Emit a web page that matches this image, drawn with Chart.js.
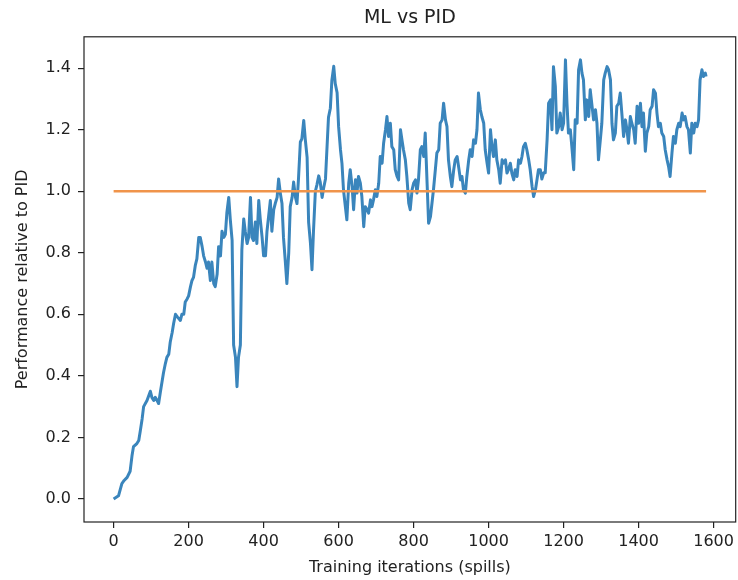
<!DOCTYPE html>
<html>
<head>
<meta charset="utf-8">
<title>ML vs PID</title>
<script src="https://cdn.jsdelivr.net/npm/chart.js@4.4.1/dist/chart.umd.min.js"></script>
<style>
    html, body { margin: 0; padding: 0; background: #fff; }
    #wrap { width: 738px; height: 580px; }
</style>
</head>
<body>
<div id="wrap"><canvas id="mlChart" width="738" height="580"></canvas></div>
<script>
// --- 1. DATA ---
const iterX = [
    0, 13, 22, 28, 36, 44, 49, 53, 62, 67, 71, 76, 80, 89, 98, 102, 107, 111, 116, 120,
    125, 129, 133, 138, 142, 147, 151, 156, 160, 165, 171, 178, 182, 187, 191, 196, 200, 205, 209, 213,
    218, 222, 227, 231, 236, 240, 245, 249, 253, 258, 262, 267, 271, 276, 280, 285, 289, 294, 298, 302,
    307, 311, 316, 320, 325, 329, 333, 338, 342, 347, 351, 356, 360, 365, 369, 373, 378, 382, 387, 391,
    396, 400, 405, 409, 418, 422, 427, 431, 436, 440, 445, 449, 453, 458, 462, 467, 471, 476, 480, 485,
    489, 493, 498, 502, 507, 511, 516, 520, 525, 529, 533, 538, 542, 547, 551, 556, 560, 565, 569, 573,
    578, 582, 587, 591, 596, 600, 605, 609, 613, 618, 622, 627, 631, 636, 640, 645, 649, 653, 658, 662,
    667, 671, 676, 680, 685, 689, 693, 698, 702, 707, 711, 716, 720, 725, 729, 733, 738, 742, 747, 751,
    756, 760, 765, 769, 773, 778, 782, 787, 791, 796, 800, 805, 809, 813, 818, 822, 827, 831, 836, 840,
    845, 849, 853, 858, 862, 867, 871, 876, 880, 885, 889, 893, 898, 902, 907, 911, 916, 920, 925, 929,
    933, 938, 942, 947, 951, 956, 960, 965, 969, 973, 978, 982, 987, 991, 996, 1000, 1005, 1009, 1013, 1018,
    1022, 1027, 1031, 1036, 1040, 1045, 1049, 1053, 1058, 1062, 1067, 1071, 1076, 1080, 1085, 1089, 1093, 1098, 1102, 1107,
    1111, 1116, 1120, 1125, 1129, 1133, 1138, 1142, 1147, 1151, 1156, 1160, 1165, 1169, 1173, 1178, 1182, 1187, 1191, 1196,
    1200, 1205, 1209, 1213, 1218, 1222, 1227, 1231, 1236, 1240, 1245, 1249, 1253, 1258, 1262, 1267, 1271, 1276, 1280, 1285,
    1289, 1293, 1298, 1302, 1307, 1311, 1316, 1320, 1325, 1329, 1333, 1338, 1342, 1347, 1351, 1356, 1360, 1365, 1369, 1373,
    1378, 1382, 1387, 1391, 1396, 1400, 1405, 1409, 1413, 1418, 1422, 1427, 1431, 1436, 1440, 1445, 1449, 1453, 1458, 1462,
    1467, 1471, 1476, 1480, 1484, 1489, 1493, 1498, 1502, 1507, 1511, 1516, 1520, 1524, 1529, 1533, 1538, 1542, 1547, 1551,
    1556, 1560, 1564, 1569, 1573, 1578, 1580
];

const mlPerf = [
    0.00, 0.01, 0.05, 0.06, 0.07, 0.09, 0.14, 0.17, 0.18, 0.19, 0.22, 0.26, 0.30, 0.32, 0.35, 0.33, 0.32, 0.33, 0.32, 0.31,
    0.35, 0.38, 0.41, 0.44, 0.46, 0.47, 0.51, 0.54, 0.57, 0.60, 0.59, 0.58, 0.60, 0.60, 0.64, 0.65, 0.66, 0.69, 0.71, 0.72,
    0.76, 0.78, 0.85, 0.85, 0.82, 0.79, 0.77, 0.75, 0.77, 0.71, 0.77, 0.70, 0.69, 0.73, 0.82, 0.79, 0.87, 0.85, 0.86, 0.93,
    0.98, 0.91, 0.84, 0.50, 0.46, 0.365, 0.46, 0.50, 0.81, 0.91, 0.87, 0.83, 0.85, 0.98, 0.85, 0.84, 0.90, 0.83, 0.97, 0.91,
    0.85, 0.79, 0.79, 0.87, 0.97, 0.87, 0.94, 0.96, 0.98, 1.04, 0.99, 0.96, 0.85, 0.77, 0.70, 0.80, 0.95, 0.98, 1.03, 0.98,
    0.96, 1.04, 1.16, 1.17, 1.23, 1.17, 1.11, 0.90, 0.83, 0.745, 0.87, 1.00, 1.02, 1.05, 1.03, 0.98, 1.01, 1.04, 1.14, 1.24,
    1.27, 1.36, 1.406, 1.35, 1.32, 1.21, 1.135, 1.09, 1.005, 0.95, 0.907, 1.026, 1.07, 1.015, 0.94, 1.037, 0.994, 1.048, 1.026, 0.983,
    0.885, 0.95, 0.94, 0.929, 0.972, 0.95, 0.972, 1.005, 0.983, 1.026, 1.113, 1.091, 1.156, 1.20, 1.243, 1.178, 1.221, 1.145, 1.135, 1.07,
    1.048, 1.037, 1.20, 1.167, 1.135, 1.102, 1.048, 0.961, 0.94, 1.005, 1.026, 1.037, 0.994, 1.037, 1.135, 1.145, 1.113, 1.189, 1.026, 0.896,
    0.918, 0.961, 1.005, 1.07, 1.124, 1.135, 1.221, 1.232, 1.286, 1.232, 1.21, 1.102, 1.048, 1.015, 1.07, 1.102, 1.113, 1.08, 1.037, 1.048,
    1.005, 0.994, 1.048, 1.102, 1.135, 1.113, 1.167, 1.156, 1.20, 1.319, 1.265, 1.243, 1.221, 1.135, 1.091, 1.059, 1.20, 1.145, 1.113, 1.167,
    1.102, 1.07, 1.026, 1.102, 1.091, 1.102, 1.059, 1.07, 1.091, 1.059, 1.037, 1.07, 1.048, 1.102, 1.091, 1.113, 1.145, 1.156, 1.135, 1.102,
    1.07, 1.015, 0.983, 1.005, 1.037, 1.07, 1.07, 1.04, 1.06, 1.06, 1.167, 1.286, 1.297, 1.20, 1.405, 1.341, 1.189, 1.21, 1.254, 1.20,
    1.221, 1.427, 1.286, 1.189, 1.20, 1.145, 1.07, 1.232, 1.221, 1.395, 1.427, 1.384, 1.362, 1.232, 1.297, 1.243, 1.33, 1.276, 1.232, 1.265,
    1.221, 1.102, 1.167, 1.221, 1.362, 1.384, 1.405, 1.395, 1.362, 1.221, 1.167, 1.189, 1.276, 1.286, 1.319, 1.243, 1.178, 1.232, 1.20, 1.156,
    1.243, 1.221, 1.20, 1.156, 1.276, 1.221, 1.286, 1.21, 1.254, 1.13, 1.189, 1.21, 1.265, 1.276, 1.33, 1.319, 1.254, 1.21, 1.221, 1.189,
    1.178, 1.135, 1.102, 1.08, 1.048, 1.124, 1.178, 1.156, 1.20, 1.221, 1.21, 1.254, 1.232, 1.243, 1.21, 1.20, 1.124, 1.221, 1.189, 1.221,
    1.21, 1.232, 1.362, 1.395, 1.373, 1.384, 1.373
];

// PID baseline (constant 1.0 over the same run)
const pidX = [0, 1580];
const pidPerf = [1.0, 1.0];

const xTickValues = [0, 200, 400, 600, 800, 1000, 1200, 1400, 1600];
const yTickValues = [0.0, 0.2, 0.4, 0.6, 0.8, 1.0, 1.2, 1.4];

// --- 2. LOOK ---
const FONT = "'DejaVu Sans', 'Liberation Sans', sans-serif";
const INK = '#222';

// matplotlib-style box around the axes; title centred over the axes, not the canvas
const frameBox = {
    id: 'frameBox',
    afterLayout(chart) {
        const t = chart.titleBlock;
        if (t) {
            t.left = chart.chartArea.left;
            t.right = chart.chartArea.right;
            t.width = t.right - t.left;
        }
    },
    afterDraw(chart) {
        const a = chart.chartArea;
        const ctx = chart.ctx;
        ctx.save();
        ctx.strokeStyle = INK;
        ctx.lineWidth = 1.2;
        ctx.strokeRect(a.left, a.top, a.right - a.left, a.bottom - a.top);
        ctx.restore();
    }
};

document.addEventListener('DOMContentLoaded', () => {
    const ctx = document.getElementById('mlChart').getContext('2d');

    const mlPoints = iterX.map((x, i) => ({ x: x, y: mlPerf[i] }));
    const pidPoints = pidX.map((x, i) => ({ x: x, y: pidPerf[i] }));

    new Chart(ctx, {
        type: 'line',
        data: {
            datasets: [
                {
                    label: 'PID',
                    data: pidPoints,
                    borderColor: '#f0944a',
                    borderWidth: 2.4,
                    pointRadius: 0,
                    order: 0
                },
                {
                    label: 'ML',
                    data: mlPoints,
                    borderColor: '#3a85bc',
                    borderWidth: 3,
                    pointRadius: 0,
                    tension: 0,
                    borderJoinStyle: 'round',
                    order: 1
                }
            ]
        },
        options: {
            responsive: false,
            animation: false,
            events: [],
            layout: { padding: { left: 0, right: 2, top: 0, bottom: 0 } },
            scales: {
                x: {
                    type: 'linear',
                    min: -79,
                    max: 1659,
                    afterBuildTicks: (s) => { s.ticks = xTickValues.map(v => ({ value: v })); },
                    afterFit: (s) => { s.height = 58; },
                    border: { display: false },
                    grid: { drawOnChartArea: false, drawTicks: true, tickLength: 6, color: INK, lineWidth: 1.2 },
                    ticks: {
                        color: INK,
                        padding: 4,
                        maxRotation: 0,
                        font: { family: FONT, size: 16 },
                        callback: (v) => String(v)
                    },
                    title: {
                        display: true,
                        text: 'Training iterations (spills)',
                        color: INK,
                        font: { family: FONT, size: 16 },
                        padding: { top: 0, bottom: 3 }
                    }
                },
                y: {
                    type: 'linear',
                    min: -0.075,
                    max: 1.502,
                    afterBuildTicks: (s) => { s.ticks = yTickValues.map(v => ({ value: v })); },
                    afterFit: (s) => { s.width = 84; },
                    border: { display: false },
                    grid: { drawOnChartArea: false, drawTicks: true, tickLength: 6, color: INK, lineWidth: 1.2 },
                    ticks: {
                        color: INK,
                        padding: 7,
                        font: { family: FONT, size: 16 },
                        callback: (v) => Number(v).toFixed(1)
                    },
                    title: {
                        display: true,
                        text: 'Performance relative to PID',
                        color: INK,
                        font: { family: FONT, size: 16 },
                        padding: { top: 13, bottom: 0 }
                    }
                }
            },
            plugins: {
                legend: { display: false },
                tooltip: { enabled: false },
                title: {
                    display: true,
                    text: 'ML vs PID',
                    color: INK,
                    font: { family: FONT, size: 19, weight: 'normal' },
                    padding: { top: 7, bottom: 7 }
                }
            }
        },
        plugins: [frameBox]
    });
});
</script>
</body>
</html>
